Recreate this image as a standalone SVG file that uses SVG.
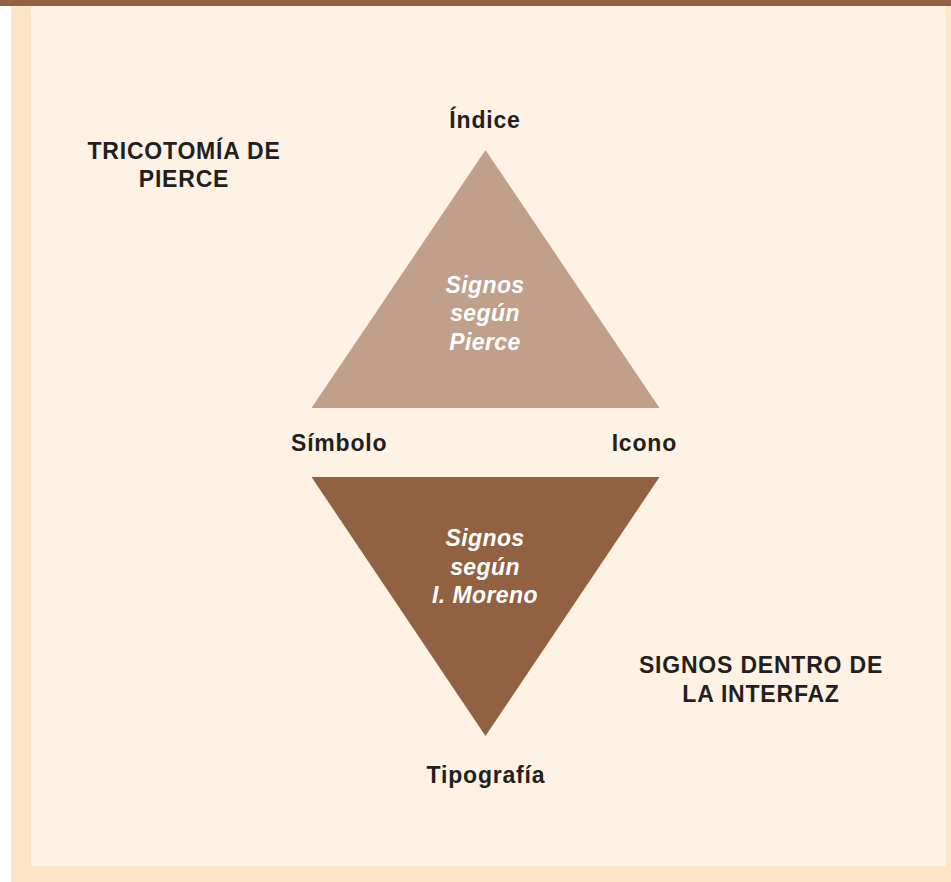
<svg xmlns="http://www.w3.org/2000/svg" width="951" height="882" viewBox="0 0 951 882">
  <style>
    .lbl { font-family: "Liberation Sans", Arial, sans-serif; font-weight: bold; font-size: 23px; letter-spacing: 0.8px; fill: #231f20; }
    .inner { font-family: "Liberation Sans", Arial, sans-serif; font-weight: bold; font-style: italic; font-size: 23px; letter-spacing: 0.4px; fill: #ffffff; text-anchor: middle; }
  </style>
  <!-- page frame -->
  <rect x="0" y="0" width="951" height="882" fill="#ffffff"/>
  <rect x="11" y="6" width="940" height="876" fill="#fee4c8"/>
  <rect x="31" y="6" width="915" height="860" fill="#fdf2e4"/>
  <rect x="0" y="0" width="951" height="6" fill="#916142"/>

  <g id="pierce">
    <polygon points="485.5,150 311.5,408 659.5,408" fill="#c0a08a"/>
    <text class="inner" x="485" y="293">Signos</text>
    <text class="inner" x="485" y="321">según</text>
    <text class="inner" x="485" y="350">Pierce</text>
  </g>

  <g id="moreno">
    <polygon points="311.5,477 659.5,477 485.5,736" fill="#916142"/>
    <text class="inner" x="485" y="546">Signos</text>
    <text class="inner" x="485" y="575">según</text>
    <text class="inner" x="485" y="603">I. Moreno</text>
  </g>

  <g id="labels">
    <text class="lbl" x="485" y="128" text-anchor="middle">Índice</text>
    <text class="lbl" x="291" y="451">Símbolo</text>
    <text class="lbl" x="677" y="451" text-anchor="end">Icono</text>
    <text class="lbl" x="486" y="783" text-anchor="middle">Tipografía</text>
    <text class="lbl" x="184" y="159" text-anchor="middle">TRICOTOMÍA DE</text>
    <text class="lbl" x="184" y="187" text-anchor="middle">PIERCE</text>
    <text class="lbl" x="761" y="673" text-anchor="middle">SIGNOS DENTRO DE</text>
    <text class="lbl" x="761" y="702" text-anchor="middle">LA INTERFAZ</text>
  </g>
</svg>
